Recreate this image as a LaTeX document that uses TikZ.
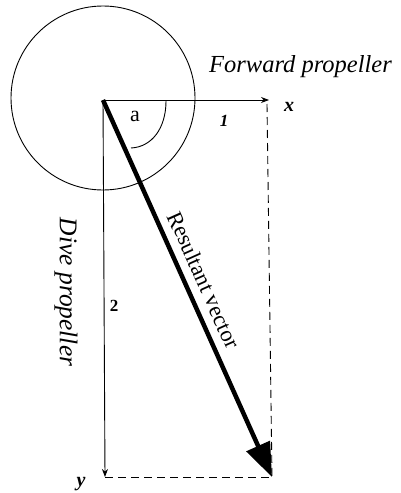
\documentclass[tikz,border=0pt]{standalone}
\usepackage{fontspec}
\setmainfont{Liberation Serif}
\usetikzlibrary{arrows.meta}
\begin{document}
\begin{tikzpicture}[x=1pt,y=-1pt,
  thinline/.style={line width=0.9pt},
  dashline/.style={line width=0.9pt, dash pattern=on 8pt off 5pt},
  lbl/.style={inner sep=0pt},
  smallhead/.style={-{Stealth[length=8pt,width=6pt]}},
]
\useasboundingbox (0,0) rectangle (400,493);
\coordinate (O) at (103,100);
\coordinate (X) at (269,100);
\coordinate (Y) at (105,477);
\coordinate (R) at (272,477);
\coordinate (D) at (267,104);
\node[circle, draw, thinline, minimum size=184pt, inner sep=0pt] (prop) at (103,98) {};
\draw[thinline, smallhead] (O) -- (X);
\draw[thinline, smallhead] (O) -- (Y);
\draw[dashline] (D) -- (R);
\draw[dashline] (Y) -- (R);
\draw[line width=4.5pt, -{Triangle[length=34pt,width=25pt]}] (O) -- (R);
\draw[thinline] (166,101) .. controls (166,128) and (152,147) .. (131,148);
\node[lbl, font=\itshape\fontsize{24.5}{24.5}\selectfont, anchor=base west] (fp) at (209,72) {Forward propeller};
\node[lbl, font=\itshape\fontsize{25.5}{25.5}\selectfont, rotate=-90] (dp) at (66,292) {Dive propeller};
\node[lbl, font=\fontsize{22.5}{22.5}\selectfont, rotate=-65.8] (rv) at (204,280) {Resultant vector};
\node[lbl, font=\fontsize{22}{22}\selectfont] (ang) at (135,116) {a};
\node[lbl, font=\bfseries\itshape\fontsize{17}{17}\selectfont] (one) at (224,121) {1};
\node[lbl, font=\bfseries\itshape\fontsize{20}{20}\selectfont] (xl) at (289,107) {x};
\node[lbl, font=\bfseries\fontsize{17}{17}\selectfont] (two) at (114,306) {2};
\node[lbl, font=\bfseries\itshape\fontsize{20}{20}\selectfont] (yl) at (81,484) {y};
\end{tikzpicture}
\end{document}
